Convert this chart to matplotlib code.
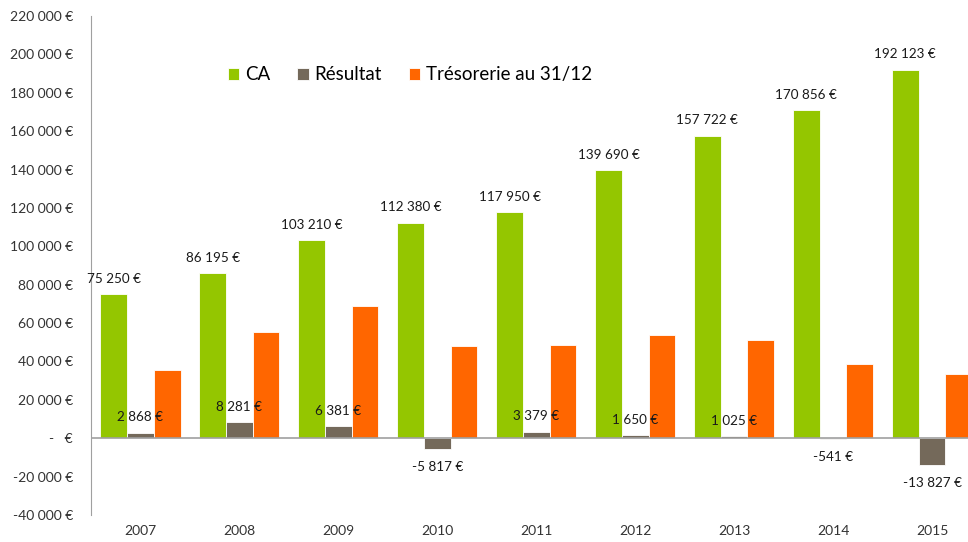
import matplotlib.pyplot as plt
import numpy as np
from matplotlib.ticker import FuncFormatter

plt.rcParams['font.family'] = ['Lato', 'DejaVu Sans']

years = ['2007', '2008', '2009', '2010', '2011', '2012', '2013', '2014', '2015']
ca = [75250, 86195, 103210, 112380, 117950, 139690, 157722, 170856, 192123]
resultat = [2868, 8281, 6381, -5817, 3379, 1650, 1025, -541, -13827]
tresorerie = [35400, 55400, 68700, 47900, 48600, 53700, 51000, 38500, 33700]

series = [('CA', ca, '#94C600'), ('Résultat', resultat, '#74695A'),
          ('Trésorerie au 31/12', tresorerie, '#FF6600')]


def euro(v):
    if v == 0:
        return '-   €'
    return f'{int(v):,}'.replace(',', '\u00a0') + ' €'


fig = plt.figure(figsize=(9.68, 5.42), dpi=100)
ax = fig.add_axes([91 / 968, 27 / 542, 890.5 / 968, 499 / 542])

x = np.arange(len(years))
w = 0.27
for i, (name, vals, col) in enumerate(series):
    ax.bar(x + (i - 1) * w, vals, w, color=col, edgecolor='white',
           linewidth=0.6, label=name, zorder=2)

# data labels for CA and Résultat
for xi, v in zip(x, ca):
    ax.annotate(euro(v), (xi - w, v), xytext=(0, 11), textcoords='offset points',
                ha='center', va='center', fontsize=9.7, color='#1a1a1a', zorder=5)
for xi, v in zip(x, resultat):
    off = 11 if v >= 0 else -13
    ax.annotate(euro(v), (xi, v), xytext=(0, off), textcoords='offset points',
                ha='center', va='center', fontsize=9.7, color='#1a1a1a', zorder=5)

ax.set_xlim(-0.5, len(years) - 0.5)
ax.set_ylim(-40000, 220000)
ax.set_yticks(np.arange(-40000, 220001, 20000))
ax.yaxis.set_major_formatter(FuncFormatter(lambda v, p: euro(v)))
ax.tick_params(axis='y', length=0, labelsize=10, labelcolor='#333333', pad=13)
ax.tick_params(axis='x', length=0, labelsize=10, labelcolor='#333333', pad=7)
ax.set_xticks(x)
ax.set_xticklabels(years)

for s in ['top', 'right', 'bottom']:
    ax.spines[s].set_visible(False)
ax.spines['left'].set_color('#a0a0a0')
ax.axhline(0, color='#a0a0a0', linewidth=1.2, zorder=3)

ax.legend(loc='center left', bbox_to_anchor=(0.135, 0.882), ncol=3, frameon=False,
          fontsize=13.5, handlelength=0.6, handleheight=0.6, handletextpad=0.3,
          columnspacing=1.45)

fig.savefig('out.png', dpi=100)
